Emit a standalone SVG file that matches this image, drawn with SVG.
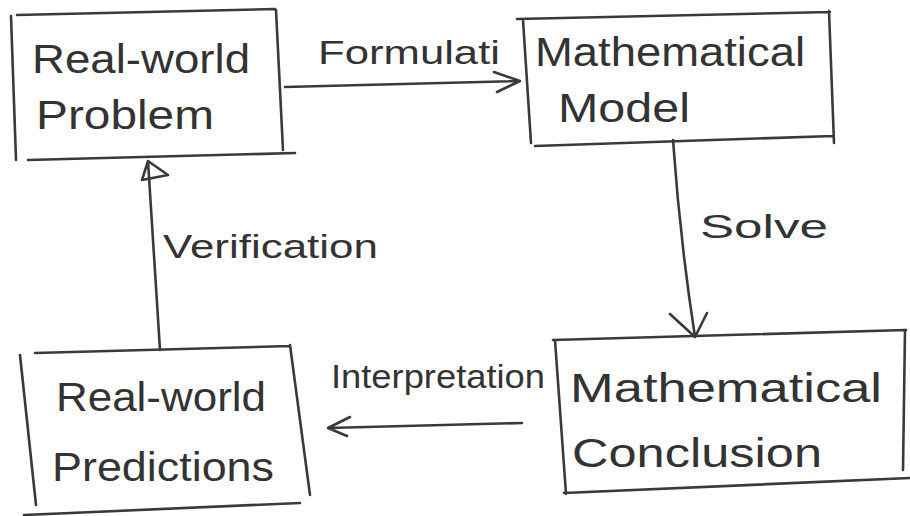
<svg xmlns="http://www.w3.org/2000/svg" width="910" height="516" viewBox="0 0 910 516">
<defs>
<style>
.ln{fill:none;stroke:#3a3a3a;stroke-width:2.6;stroke-linecap:round;stroke-linejoin:round}
.t{font-family:"Liberation Sans",Arial,sans-serif;font-size:41px;fill:#333}
.lb{font-family:"Liberation Sans",Arial,sans-serif;font-size:33px;fill:#333}
</style>
</defs>
<rect width="910" height="516" fill="#ffffff"/>
<g id="real-world-problem">
<path class="ln" d="M17 15 L275 9 M11 16 L16 160 M276 10 L283 150 M28 160 L295 153"/>
<text class="t" x="32" y="73" textLength="218" lengthAdjust="spacingAndGlyphs">Real-world</text>
<text class="t" x="36" y="129" textLength="178" lengthAdjust="spacingAndGlyphs">Problem</text>
</g>
<g id="mathematical-model">
<path class="ln" d="M517 19 L830 12 M523 20 L531 143 M829 11 L834 143 M535 146 L833 136"/>
<text class="t" x="535" y="66" textLength="270" lengthAdjust="spacingAndGlyphs">Mathematical</text>
<text class="t" x="558" y="122" textLength="132" lengthAdjust="spacingAndGlyphs">Model</text>
</g>
<g id="mathematical-conclusion">
<path class="ln" d="M553 340 L906 330 M555 340 L566 494 M905 330 L903 470 M564 493 L910 478"/>
<text class="t" x="570" y="402" textLength="312" lengthAdjust="spacingAndGlyphs">Mathematical</text>
<text class="t" x="572" y="467" textLength="250" lengthAdjust="spacingAndGlyphs">Conclusion</text>
</g>
<g id="real-world-predictions">
<path class="ln" d="M35 353 L290 346 M20 355 L36 505 M290 345 L310 495 M24 515 L300 503"/>
<text class="t" x="56" y="411" textLength="210" lengthAdjust="spacingAndGlyphs">Real-world</text>
<text class="t" x="52" y="481" textLength="222" lengthAdjust="spacingAndGlyphs">Predictions</text>
</g>
<g id="connectors">
<g id="formulate">
<path class="ln" d="M285 87 L520 81 M494 72 L520 81 L497 92"/>
<text class="lb" x="318" y="64" textLength="182" lengthAdjust="spacingAndGlyphs">Formulati</text>
</g>
<g id="solve">
<path class="ln" d="M673 140 Q680 240 695 337 M670 314 L695 337 L707 313"/>
<text class="lb" x="700" y="238" textLength="128" lengthAdjust="spacingAndGlyphs">Solve</text>
</g>
<g id="interpretation">
<path class="ln" d="M522 423 L328 428 M350 417 L328 428 L347 436"/>
<text class="lb" x="331" y="388" textLength="214" lengthAdjust="spacingAndGlyphs">Interpretation</text>
</g>
<g id="verification">
<path class="ln" d="M160 350 L148 161 M148 161 L142 180 L168 175 Z"/>
<text class="lb" x="163" y="258" textLength="215" lengthAdjust="spacingAndGlyphs">Verification</text>
</g>
</g>
</svg>
